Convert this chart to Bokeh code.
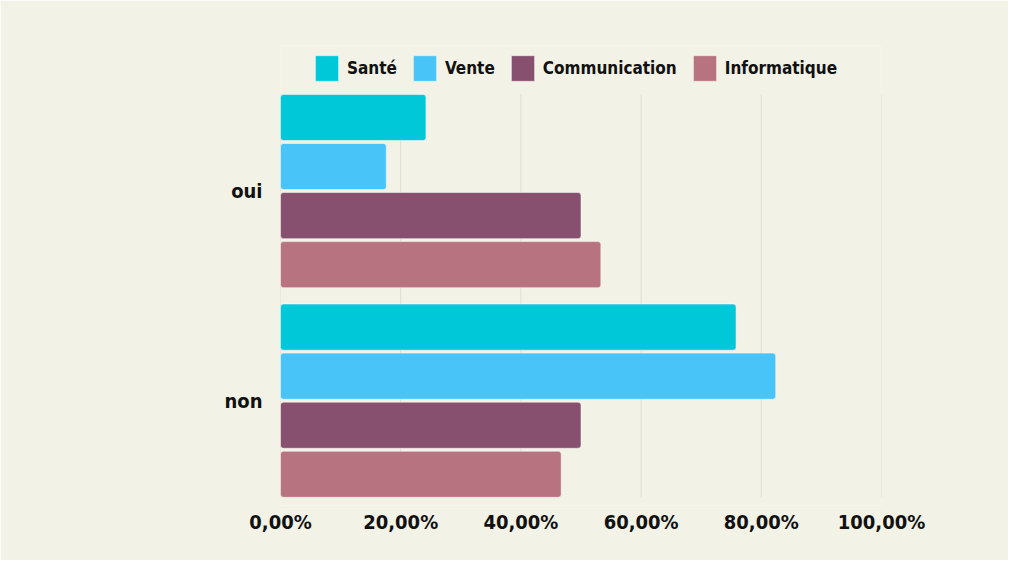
from bokeh.plotting import figure
from bokeh.models import ColumnDataSource, Range1d, Legend, FixedTicker
from bokeh.transform import dodge
from bokeh.embed import file_html
from bokeh.resources import INLINE

reponses = ["oui", "non"]
sante = [24.2, 75.8]
vente = [17.6, 82.4]
communication = [50.0, 50.0]
informatique = [53.3, 46.7]
ticks = [0, 20, 40, 60, 80, 100]
tick_labels = ["0,00%", "20,00%", "40,00%", "60,00%", "80,00%", "100,00%"]

series = ["Santé", "Vente", "Communication", "Informatique"]
colors = ["#00c8d8", "#48c4f8", "#86506e", "#b87380"]
offsets = [0.351, 0.117, -0.117, -0.351]
bar_h = 0.22

n = len(reponses)
pos = [n - i - 0.5 for i in range(n)]   # oui on top
src = ColumnDataSource(data=dict(pos=pos, s0=sante, s1=vente, s2=communication, s3=informatique))

FONT = "DejaVu Sans Condensed"
BG = "#f2f2e6"
INK = "#111111"

# frame is extended upward so the legend can sit inside it
p = figure(width=1008, height=560, output_backend="svg", toolbar_location=None,
           y_range=Range1d(0, 2.1945), x_range=(0, 100),
           background_fill_color=BG, border_fill_color=BG, outline_line_color=None,
           min_border_left=280, min_border_right=127, min_border_top=45, min_border_bottom=55)

# vertical grid, only over the bar area
edge = 0.5 - offsets[0] - bar_h / 2
p.segment(x0=ticks, y0=edge, x1=ticks, y1=n - edge, line_color="#dcdcd0", line_width=1)

items = []
for i, name in enumerate(series):
    r = p.hbar(y=dodge("pos", offsets[i]), right="s%d" % i, left=0, height=bar_h,
               source=src, fill_color=colors[i], line_color="#ffffff", line_alpha=0.5, line_width=1,
               border_radius=3)
    items.append((name, [r]))

p.xgrid.grid_line_color = None
p.ygrid.grid_line_color = None
p.xaxis.ticker = FixedTicker(ticks=ticks)
p.xaxis.major_label_overrides = {t: l for t, l in zip(ticks, tick_labels)}
p.yaxis.ticker = FixedTicker(ticks=pos)
p.yaxis.major_label_overrides = {v: c for v, c in zip(pos, reponses)}

for ax in (p.xaxis, p.yaxis):
    ax.axis_line_color = None
    ax.major_tick_line_color = None
    ax.minor_tick_line_color = None
    ax.major_label_text_font = FONT
    ax.major_label_text_font_style = "bold"
    ax.major_label_text_color = INK
p.xaxis.major_label_text_font_size = "20px"
p.xaxis.major_label_standoff = -2
p.yaxis.major_label_text_font_size = "20px"
p.yaxis.major_label_standoff = 12

legend = Legend(items=items, orientation="horizontal", location=(32, 421),
                background_fill_alpha=0, border_line_color=None,
                glyph_width=29, glyph_height=32, label_standoff=6, spacing=13,
                label_text_font=FONT, label_text_font_style="bold",
                label_text_font_size="17px", label_text_color=INK,
                padding=0, margin=0)
p.add_layout(legend, "center")

open("out.html", "w").write(file_html(p, INLINE))
